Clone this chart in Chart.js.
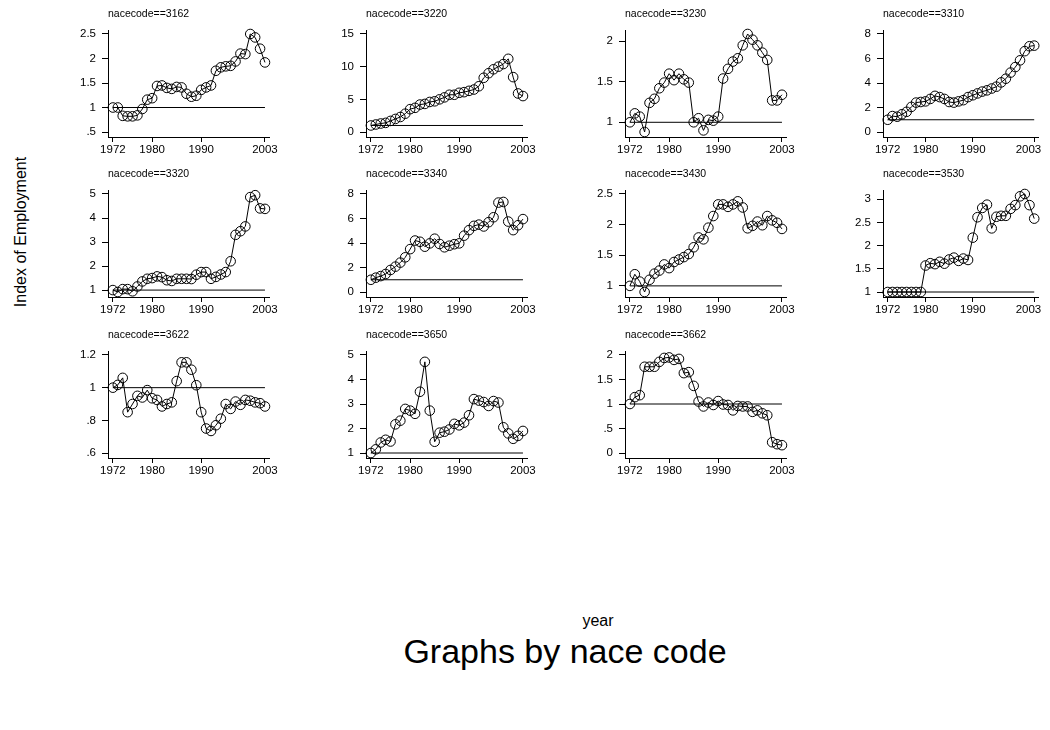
<!DOCTYPE html>
<html><head><meta charset="utf-8">
<script src="https://cdn.jsdelivr.net/npm/chart.js@4.4.1/dist/chart.umd.min.js"></script>
<style>
html,body{margin:0;padding:0;background:#fff;width:1050px;height:730px;overflow:hidden;font-family:"Liberation Sans",Arial,sans-serif;color:#000;}
.panel{position:absolute;}
.panel canvas{display:block;}
#ytitle{position:absolute;left:21px;top:232px;transform:translate(-50%,-50%) rotate(-90deg);font-size:16px;white-space:nowrap;}
#xtitle{position:absolute;left:598px;top:621px;transform:translate(-50%,-50%);font-size:16px;white-space:nowrap;}
#note{position:absolute;left:565px;top:651px;transform:translate(-50%,-50%);font-size:34px;white-space:nowrap;}
</style></head>
<body>
<div id="ytitle">Index of Employment</div>
<div id="xtitle">year</div>
<div id="note">Graphs by nace code</div>
<script>
// ---- data ----
const years = [1972,1973,1974,1975,1976,1977,1978,1979,1980,1981,1982,1983,1984,1985,1986,1987,
               1988,1989,1990,1991,1992,1993,1994,1995,1996,1997,1998,1999,2000,2001,2002,2003];
const xTicks = [1972,1980,1990,2003];
const codes = ['3162','3220','3230','3310','3320','3340','3430','3530','3622','3650','3662'];

const emp3162 = [1.00,1.00,0.83,0.82,0.82,0.84,0.97,1.16,1.19,1.44,1.45,1.40,1.38,1.42,1.41,1.28,1.22,1.24,1.36,1.41,1.45,1.75,1.82,1.84,1.85,1.94,2.10,2.09,2.50,2.43,2.20,1.92];
const emp3220 = [1.0,1.15,1.3,1.4,1.7,2.0,2.3,2.8,3.5,3.7,4.2,4.3,4.6,4.7,5.0,5.3,5.7,5.7,6.0,6.1,6.3,6.5,7.0,8.3,9.0,9.6,10.0,10.4,11.2,8.4,5.9,5.5];
const emp3230 = [1.0,1.11,1.07,0.88,1.24,1.29,1.42,1.49,1.60,1.52,1.60,1.53,1.49,1.0,1.05,0.90,1.03,1.02,1.07,1.54,1.66,1.75,1.79,1.95,2.09,2.02,1.95,1.86,1.77,1.27,1.27,1.34];
const emp3310 = [1.0,1.3,1.25,1.45,1.65,2.05,2.4,2.45,2.5,2.7,2.95,2.85,2.7,2.45,2.4,2.5,2.6,2.85,3.0,3.15,3.3,3.4,3.55,3.7,4.05,4.35,4.85,5.3,5.85,6.6,7.0,7.05];
const emp3320 = [1.0,0.92,1.04,1.04,0.95,1.15,1.36,1.47,1.5,1.57,1.54,1.41,1.38,1.47,1.47,1.47,1.46,1.64,1.75,1.75,1.47,1.55,1.65,1.75,2.2,3.3,3.45,3.65,4.87,4.95,4.4,4.38];
const emp3340 = [1.0,1.17,1.3,1.47,1.8,2.07,2.4,2.83,3.5,4.2,4.1,3.7,3.97,4.35,3.92,3.65,3.78,3.9,3.97,4.6,5.05,5.4,5.5,5.35,5.7,6.1,7.3,7.35,5.75,5.05,5.45,5.95];
const emp3430 = [1.0,1.19,1.07,0.9,1.1,1.2,1.25,1.35,1.29,1.39,1.43,1.47,1.52,1.63,1.79,1.76,1.95,2.14,2.33,2.33,2.29,2.33,2.38,2.28,1.94,1.98,2.05,1.99,2.14,2.07,2.03,1.93];
const emp3530 = [1,1,1,1,1,1,1,1,1.57,1.62,1.6,1.65,1.61,1.7,1.74,1.67,1.72,1.69,2.17,2.61,2.81,2.88,2.37,2.62,2.64,2.64,2.79,2.87,3.06,3.11,2.87,2.58];
const emp3622 = [1.0,1.017,1.06,0.85,0.90,0.95,0.94,0.985,0.935,0.925,0.885,0.90,0.91,1.04,1.155,1.155,1.11,1.015,0.85,0.75,0.735,0.77,0.81,0.90,0.87,0.915,0.895,0.925,0.92,0.91,0.905,0.885];
const emp3650 = [1.0,1.15,1.43,1.54,1.47,2.17,2.32,2.8,2.73,2.6,3.5,4.72,2.73,1.46,1.83,1.87,1.96,2.19,2.13,2.24,2.54,3.2,3.14,3.08,2.92,3.12,3.06,2.05,1.8,1.58,1.7,1.9];
const emp3662 = [1.0,1.14,1.18,1.76,1.76,1.76,1.86,1.94,1.95,1.90,1.92,1.63,1.65,1.37,1.05,0.95,1.03,0.98,1.06,0.99,0.98,0.87,0.96,0.95,0.95,0.84,0.87,0.81,0.77,0.22,0.18,0.16];

const ticks3162 = [0.5,1,1.5,2,2.5];
const ticks3220 = [0,5,10,15];
const ticks3230 = [1,1.5,2];
const ticks3310 = [0,2,4,6,8];
const ticks3320 = [1,2,3,4,5];
const ticks3340 = [0,2,4,6,8];
const ticks3430 = [1,1.5,2,2.5];
const ticks3530 = [1,1.5,2,2.5,3];
const ticks3622 = [0.6,0.8,1,1.2];
const ticks3650 = [1,2,3,4,5];
const ticks3662 = [0,0.5,1,1.5,2];

const refValue = 1;

const seriesList = [emp3162,emp3220,emp3230,emp3310,emp3320,emp3340,emp3430,emp3530,emp3622,emp3650,emp3662];
const tickList = [ticks3162,ticks3220,ticks3230,ticks3310,ticks3320,ticks3340,ticks3430,ticks3530,ticks3622,ticks3650,ticks3662];

// ---- layout / style ----
const FONT = '"Liberation Sans", Arial, sans-serif';
const TICKFONT = 11.5;
const TITLEFONT = 10.5;
const COL0 = 107.5, COLSTEP = 258.6;
const ROWTOP = [33.5, 194, 355];   // pixel of top of data range
const RANGEH = 98.2;               // pixel height of data range
const MTOP = 4, MBOT = 5;          // plot region margins
const AREAW = 163;
const WY = 50, HX = 26, PT = 26, PR = 8;

const titlePlugin = {
  id: 'panelTitle',
  afterDraw(chart, args, opts) {
    const ctx = chart.ctx, a = chart.chartArea;
    ctx.save();
    ctx.font = TITLEFONT + 'px ' + FONT;
    ctx.fillStyle = '#000';
    ctx.textAlign = 'left';
    ctx.textBaseline = 'middle';
    ctx.fillText(opts.text, a.left, a.top - 16);
    ctx.restore();
  }
};

function fmt(v) {
  let s = String(Math.round(v * 1000) / 1000);
  return s.replace(/^0\./, '.');
}

codes.forEach((code, i) => {
  const col = i % 4, row = Math.floor(i / 4);
  const vals = seriesList[i], yt = tickList[i];
  const lo = Math.min(...vals, ...yt), hi = Math.max(...vals, ...yt);
  const k = RANGEH / (hi - lo);
  const ymin = lo - MBOT / k, ymax = hi + MTOP / k;
  const L = COL0 + COLSTEP * col;
  const areaTop = ROWTOP[row] - MTOP;
  const areaH = RANGEH + MTOP + MBOT;
  const div = document.createElement('div');
  div.className = 'panel';
  const w = WY + AREAW + PR, h = PT + areaH + HX;
  div.style.left = (L - WY) + 'px';
  div.style.top = (areaTop - PT) + 'px';
  div.style.width = w + 'px';
  div.style.height = h + 'px';
  const cv = document.createElement('canvas');
  cv.width = Math.round(w); cv.height = Math.round(h);
  cv.style.width = Math.round(w) + 'px'; cv.style.height = Math.round(h) + 'px';
  div.appendChild(cv);
  document.body.appendChild(div);
  const lastCol = (col === 3);

  new Chart(cv, {
    type: 'line',
    data: {
      datasets: [
        { data: [{x: years[0], y: refValue}, {x: years[years.length - 1], y: refValue}],
          borderColor: '#000', borderWidth: 1, pointRadius: 0, fill: false, clip: false },
        { data: years.map((yr, j) => ({x: yr, y: vals[j]})),
          borderColor: '#000', borderWidth: 1, tension: 0, fill: false, clip: false,
          pointRadius: 4.8, pointBorderWidth: 1, pointBorderColor: '#000',
          pointBackgroundColor: 'rgba(0,0,0,0)' }
      ]
    },
    options: {
      responsive: false, animation: false, devicePixelRatio: 1,
      layout: { padding: { top: PT, right: PR, left: 0, bottom: 0 } },
      plugins: { legend: { display: false }, tooltip: { enabled: false },
                 panelTitle: { text: 'nacecode==' + code } },
      scales: {
        x: {
          type: 'linear', min: 1971, max: 2004,
          afterBuildTicks: s => { s.ticks = xTicks.map(v => ({value: v})); },
          afterFit: s => { s.height = HX; },
          grid: { drawOnChartArea: false, drawTicks: true, tickLength: 5, color: '#000', lineWidth: 1 },
          border: { display: true, color: '#000', width: 1 },
          ticks: { autoSkip: false, maxRotation: 0, padding: 1, color: '#000',
                   font: { size: TICKFONT, family: FONT },
                   callback: v => (lastCol && v === xTicks[xTicks.length - 1]) ? String(v) + '\u2002\u2002' : String(v) }
        },
        y: {
          type: 'linear', min: ymin, max: ymax,
          afterBuildTicks: s => { s.ticks = yt.map(v => ({value: v})); },
          afterFit: s => { s.width = WY; },
          grid: { drawOnChartArea: false, drawTicks: true, tickLength: 6, color: '#000', lineWidth: 1 },
          border: { display: true, color: '#000', width: 1 },
          ticks: { autoSkip: false, padding: 6, color: '#000',
                   font: { size: TICKFONT, family: FONT }, callback: v => fmt(v) }
        }
      }
    },
    plugins: [titlePlugin]
  });
});
</script>
</body></html>
